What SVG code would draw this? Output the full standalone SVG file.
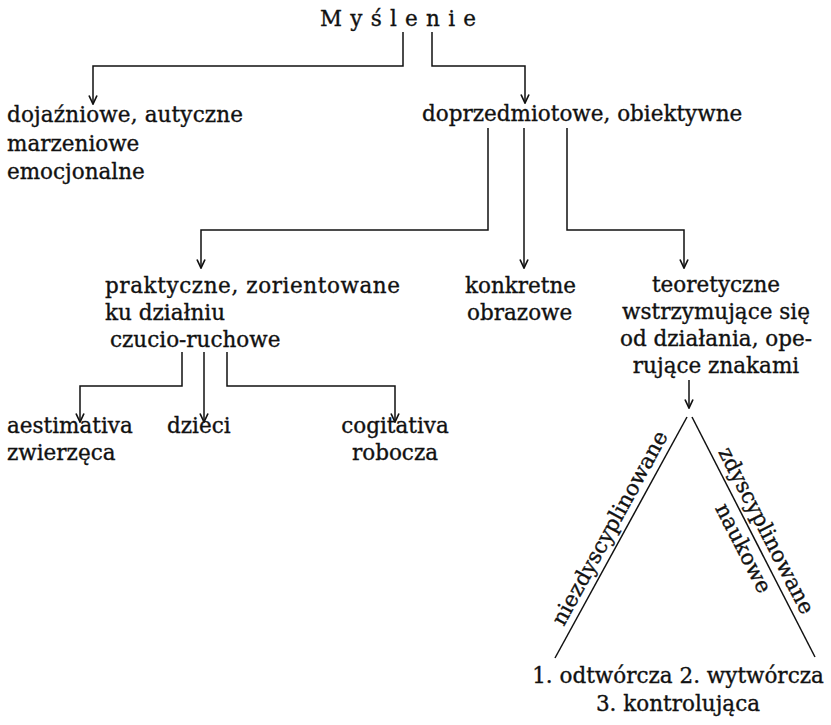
<svg xmlns="http://www.w3.org/2000/svg" width="831" height="725" viewBox="0 0 831 725">
<defs>
<style>
text{font-family:"DejaVu Serif","Liberation Serif",serif;font-size:21.5px;fill:#111;stroke:#111;stroke-width:0.35}
.c{fill:none;stroke:#111;stroke-width:1.5}
.m{text-anchor:middle}
</style>
<marker id="arr" viewBox="0 0 10 10" refX="9.5" refY="5" markerWidth="10" markerHeight="10" markerUnits="userSpaceOnUse" orient="auto">
<path d="M1,1 L9.5,5 L1,9" fill="none" stroke="#111" stroke-width="1.7"/>
</marker>
</defs>
<rect width="831" height="725" fill="#fff"/>
<g id="connectors">
<path class="c" d="M403,32 V66 H93 V104" marker-end="url(#arr)"/>
<path class="c" d="M432,32 V66 H525 V103" marker-end="url(#arr)"/>
<path class="c" d="M488,128 V230 H201 V268" marker-end="url(#arr)"/>
<path class="c" d="M524,128 V268" marker-end="url(#arr)"/>
<path class="c" d="M567,128 V230 H684 V268" marker-end="url(#arr)"/>
<path class="c" d="M182,352 V386 H80 V422" marker-end="url(#arr)"/>
<path class="c" d="M204,352 V422" marker-end="url(#arr)"/>
<path class="c" d="M227,352 V386 H395 V422" marker-end="url(#arr)"/>
<path class="c" d="M689,380 V408" marker-end="url(#arr)"/>
<path class="c" d="M687,417 L555,658"/>
<path class="c" d="M692,417 L815,657"/>
</g>
<g id="edge-labels">
<text class="m" transform="translate(616,531.5) rotate(-61.3)">niezdyscyplinowane</text>
<text class="m" transform="translate(760,533.8) rotate(62.9)">zdyscyplinowane</text>
<text class="m" transform="translate(737,551.5) rotate(62.9)">naukowe</text>
</g>
<g id="n-myslenie"><text x="320" y="26" textLength="156" lengthAdjust="spacing">M y ś l e n i e</text></g>
<g id="n-dojazniowe">
<text x="7" y="122" textLength="236" lengthAdjust="spacing">dojaźniowe, autyczne</text>
<text x="7" y="151">marzeniowe</text>
<text x="7" y="179">emocjonalne</text>
</g>
<g id="n-doprzedmiotowe"><text x="422" y="121">doprzedmiotowe, obiektywne</text></g>
<g id="n-praktyczne">
<text x="105" y="293" textLength="295" lengthAdjust="spacing">praktyczne, zorientowane</text>
<text x="105" y="320">ku działniu</text>
<text x="110" y="347">czucio-ruchowe</text>
</g>
<g id="n-konkretne">
<text x="465" y="293">konkretne</text>
<text x="467" y="320">obrazowe</text>
</g>
<g id="n-teoretyczne">
<text class="m" x="716" y="292">teoretyczne</text>
<text class="m" x="716" y="319">wstrzymujące się</text>
<text class="m" x="716" y="346">od działania, ope-</text>
<text class="m" x="716" y="373">rujące znakami</text>
</g>
<g id="n-aestimativa">
<text x="7" y="433">aestimativa</text>
<text x="7" y="460">zwierzęca</text>
</g>
<g id="n-dzieci"><text x="167" y="433">dzieci</text></g>
<g id="n-cogitativa">
<text class="m" x="395" y="433">cogitativa</text>
<text class="m" x="395" y="460">robocza</text>
</g>
<g id="n-funkcje">
<text class="m" x="678" y="683">1. odtwórcza 2. wytwórcza</text>
<text class="m" x="678" y="711">3. kontrolująca</text>
</g>
</svg>
